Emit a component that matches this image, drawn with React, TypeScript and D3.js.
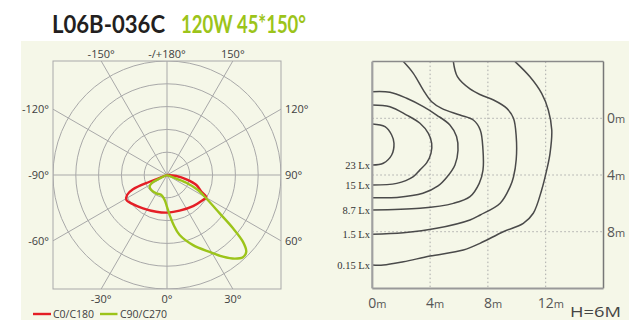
import React from "react";
import * as d3 from "d3";

// ---------- DATA ----------
const titleModel = "L06B-036C";
const titleSpec = "120W 45*150°";

// Polar curve C0/C180 (angle in degrees, 0 = down, +90 = right; value in cd)
const redAngles = [-70, -68.8, -67.2, -63.4, -58.4, -51.6, -35.8, -16.2, 1.5, 19.5, 40, 55.2, 60.4, 64, 71.2, 77.4, 83.9, 90];
const redValues = [0, 82, 162, 196, 209, 200, 180, 168, 165, 166, 178, 192, 198, 168, 136, 87, 41, 0];

// Polar curve C90/C270
const greenAngles = [-66, -64.5, -62.4, -56, -46.3, -30.3, -15.9, -5.3, 0, 3.8, 7.6, 11.9, 20.4, 29, 34.4, 39, 42.7, 45.9, 48.7, 51.1, 54, 60.1, 64.2, 68.2, 68.6, 70];
const greenValues = [0, 44, 73, 92, 95, 93, 91, 110, 140, 176, 221, 269, 328, 386, 434, 472, 491, 484, 443, 372, 286, 191, 151, 91, 21, 0];

const ringValues = [100, 200, 300, 400, 500];
const spokeAngles = [0, 30, 60, 90, 120, 150];
const polarLabelAngles = [-150, 180, 150, -120, 120, -90, 90, -60, 60, -30, 0, 30];

const legendNames = ["C0/C180", "C90/C270"];

// Isolux contours (x, y in metres)
const lux23: [number, number][] = [[0, 0.4], [0.88, 0.59], [1.34, 1.18], [1.5, 1.76], [1.34, 2.59], [0.76, 3.17], [0, 3.29]];
const lux15: [number, number][] = [[0, -0.94], [1.22, -0.82], [2.38, -0.23], [3.3, 0.35], [3.88, 1.06], [4.11, 1.76], [4.06, 2.47], [3.76, 3.15], [3.3, 3.64], [2.84, 4.11], [1.69, 4.59], [0, 4.71]];
const luxMid: [number, number][] = [[0, -1.88], [1.22, -1.84], [2.38, -1.41], [3.53, -0.82], [4.45, -0.23], [5.37, 0.47], [5.83, 1.29], [5.93, 2.27], [5.72, 3.29], [5.17, 4.14], [4.55, 4.77], [3.5, 5.29], [1.71, 5.58], [0, 5.6]];
const lux8_7: [number, number][] = [[2.15, -4.0], [2.84, -3.17], [3.53, -1.99], [4.11, -1.17], [4.8, -0.7], [6.07, -0.23], [6.99, 0.12], [7.47, 0.82], [7.66, 2.24], [7.66, 3.65], [7.4, 4.59], [6.76, 5.53], [5.61, 6.0], [3.3, 6.35], [0, 6.47]];
const lux1_5: [number, number][] = [[5.61, -4.0], [5.89, -2.94], [6.76, -2.07], [7.53, -1.64], [8.39, -1.29], [9.31, -0.7], [9.77, 0.0], [9.96, 1.29], [9.96, 2.91], [9.77, 4.14], [9.54, 4.82], [8.85, 5.99], [7.47, 6.82], [6.76, 7.17], [4.45, 7.76], [2.15, 8.07], [0, 8.18]];
const lux0_15: [number, number][] = [[9.88, -4.0], [10.91, -2.93], [11.72, -1.76], [12.18, -0.59], [12.42, 0.82], [12.3, 2.47], [12.07, 3.65], [11.72, 5.06], [11.14, 6.7], [10.45, 7.41], [9.06, 8.0], [7.45, 8.82], [6.3, 9.29], [3.99, 9.72], [2.15, 10.12], [0.76, 10.35], [0, 10.35]];

const contourLabels = ["23 Lx", "15 Lx", "", "8.7 Lx", "1.5 Lx", "0.15 Lx"];
const xTicks = [0, 4, 8, 12];
const yTicks = [0, 4, 8];
const heightNote = "H=6M";

// ---------- LAYOUT ----------
const W = 629;
const H = 320;
const cx = 167;
const cy = 175;
const half = 114;
const gridColor = "#a9a9a9";
const labelColor = "#404040";
const redColor = "#e41e26";
const greenColor = "#9cc41a";

const rScale = d3.scaleLinear().domain([0, 500]).range([0, half]);
const xM = d3.scaleLinear().domain([0, 16]).range([372.3, 603.5]);
const yM = d3.scaleLinear().domain([-4, 12]).range([61.6, 288.4]);

const toRad = (deg: number) => (Math.PI / 180) * (180 - deg);

const radial = d3
  .lineRadial<[number, number]>()
  .angle((d) => toRad(d[0]))
  .radius((d) => rScale(d[1]))
  .curve(d3.curveCatmullRom.alpha(0.5));

const contourLine = d3
  .line<[number, number]>()
  .x((d) => xM(d[0]))
  .y((d) => yM(d[1]))
  .curve(d3.curveCatmullRom.alpha(0.5));

const font = "'Open Sans', 'DejaVu Sans', sans-serif";

function polarLabel(a: number) {
  const rad = (a * Math.PI) / 180;
  const dx = Math.sin(rad);
  const dy = Math.cos(rad);
  const t = Math.min(half / Math.max(Math.abs(dx), 1e-9), half / Math.max(Math.abs(dy), 1e-9));
  const px = cx + t * dx;
  const py = cy + t * dy;
  const text = Math.abs(a) === 180 ? "-/+180°" : `${a}°`;
  if (Math.abs(a) >= 150) return { x: px, y: 54, anchor: "middle", text };
  if (Math.abs(a) <= 30) return { x: px, y: 299, anchor: "middle", text };
  if (a < 0) return { x: cx - half - 4, y: py, anchor: "end", text };
  return { x: cx + half + 4, y: py, anchor: "start", text };
}

export default function App() {
  const redData = redAngles.map((a, i) => [a, redValues[i]] as [number, number]);
  const greenData = greenAngles.map((a, i) => [a, greenValues[i]] as [number, number]);
  const contours = [lux23, lux15, luxMid, lux8_7, lux1_5, lux0_15];

  return (
    <div style={{ position: "absolute", left: 0, top: 0 }}>
      <svg width={W} height={H} style={{ display: "block" }}>
        <rect x={0} y={0} width={W} height={H} fill="#ffffff" />
        <rect x={21} y={41} width={W - 21} height={H - 41} fill="#f5f7e8" />

        {/* Title */}
        <text x={52} y={33} fontFamily="Lato, 'Open Sans', sans-serif" fontWeight={700} fontSize={24} fill="#231f20" textLength={113} lengthAdjust="spacingAndGlyphs">
          {titleModel}
        </text>
        <text x={181} y={33} fontFamily="Lato, 'Open Sans', sans-serif" fontWeight={700} fontSize={24} fill={greenColor} textLength={125} lengthAdjust="spacingAndGlyphs">
          {titleSpec}
        </text>

        {/* Polar diagram */}
        <defs>
          <clipPath id="polarClip">
            <rect x={cx - half} y={cy - half} width={half * 2} height={half * 2} />
          </clipPath>
        </defs>
        <g clipPath="url(#polarClip)">
          {ringValues.map((v) => (
            <circle key={v} cx={cx} cy={cy} r={rScale(v)} fill="none" stroke={gridColor} strokeWidth={1} />
          ))}
          {spokeAngles.map((a) => {
            const rad = (a * Math.PI) / 180;
            const L = 300;
            return (
              <line
                key={a}
                x1={cx - L * Math.sin(rad)}
                y1={cy - L * Math.cos(rad)}
                x2={cx + L * Math.sin(rad)}
                y2={cy + L * Math.cos(rad)}
                stroke={gridColor}
                strokeWidth={1}
              />
            );
          })}
        </g>
        <rect x={cx - half} y={cy - half} width={half * 2} height={half * 2} fill="none" stroke={gridColor} strokeWidth={1} />
        <g transform={`translate(${cx},${cy})`}>
          <path d={radial(redData) || ""} fill="none" stroke={redColor} strokeWidth={2.4} strokeLinejoin="round" />
          <path d={radial(greenData) || ""} fill="none" stroke={greenColor} strokeWidth={2.4} strokeLinejoin="round" />
        </g>
        {polarLabelAngles.map((a) => {
          const l = polarLabel(a);
          return (
            <text key={a} x={l.x} y={l.y} dy="0.35em" textAnchor={l.anchor as any} fontFamily={font} fontSize={11} fill={labelColor}>
              {l.text}
            </text>
          );
        })}

        {/* Legend */}
        <line x1={33} x2={51} y1={314} y2={314} stroke={redColor} strokeWidth={2.4} />
        <text x={53} y={314} dy="0.35em" fontFamily={font} fontSize={10.5} fill={labelColor}>
          {legendNames[0]}
        </text>
        <line x1={100} x2={117.5} y1={314} y2={314} stroke={greenColor} strokeWidth={2.4} />
        <text x={120} y={314} dy="0.35em" fontFamily={font} fontSize={10.5} fill={labelColor}>
          {legendNames[1]}
        </text>

        {/* Isolux diagram */}
        {xTicks.slice(1).map((t) => (
          <line key={"gx" + t} x1={xM(t)} x2={xM(t)} y1={yM(-4)} y2={yM(12)} stroke="#aaaaaa" strokeWidth={1} strokeDasharray="1.5,2.5" />
        ))}
        {yTicks.map((t) => (
          <line key={"gy" + t} x1={xM(0)} x2={xM(16)} y1={yM(t)} y2={yM(t)} stroke="#aaaaaa" strokeWidth={1} strokeDasharray="1.5,2.5" />
        ))}
        {contours.map((c, i) => (
          <path key={i} d={contourLine(c) || ""} fill="none" stroke="#4a4a4a" strokeWidth={1.5} />
        ))}
        <line x1={xM(0)} x2={xM(16)} y1={yM(-4)} y2={yM(-4)} stroke="#8a8a8a" strokeWidth={1.5} />
        <line x1={xM(16)} x2={xM(16)} y1={yM(-4)} y2={yM(12)} stroke="#777777" strokeWidth={1.5} />
        <line x1={xM(0)} x2={xM(16)} y1={yM(12)} y2={yM(12)} stroke="#999999" strokeWidth={2} />
        <line x1={xM(0)} x2={xM(0)} y1={yM(-4)} y2={yM(12)} stroke="#a0a0a0" strokeWidth={2.2} />

        {contours.map((c, i) =>
          contourLabels[i] ? (
            <text key={"cl" + i} x={370} y={yM(c[c.length - 1][1])} dy="0.35em" textAnchor="end" fontFamily="'Liberation Serif', 'DejaVu Serif', serif" fontSize={10.5} fill="#333333">
              {contourLabels[i]}
            </text>
          ) : null
        )}

        {xTicks.map((t) => (
          <text key={"xt" + t} x={xM(t)} y={308} fontFamily={font} fontSize={14} fill="#555555" textAnchor="start" dx={t >= 10 ? -8 : -4}>
            {t}
            <tspan fontSize={11}>m</tspan>
          </text>
        ))}
        {yTicks.map((t) => (
          <text key={"yt" + t} x={607} y={yM(t)} dy="0.35em" fontFamily={font} fontSize={14} fill="#555555">
            {t}
            <tspan fontSize={11}>m</tspan>
          </text>
        ))}
        <text x={570} y={317} fontFamily={font} fontSize={14} fill="#444444" textLength={51} lengthAdjust="spacingAndGlyphs">
          {heightNote}
        </text>
      </svg>
    </div>
  );
}
